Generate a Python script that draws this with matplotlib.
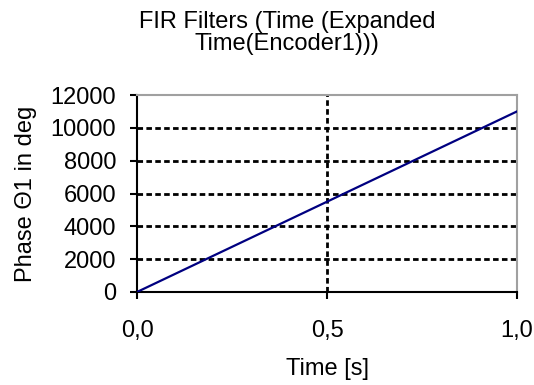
import numpy as np
import matplotlib.pyplot as plt

# values
time_s = [0.0, 0.25, 0.5, 0.75, 1.0]
phase_deg = [0, 2750, 5500, 8250, 11000]
x_ticks = [0.0, 0.5, 1.0]
x_tick_labels = ['0,0', '0,5', '1,0']
y_ticks = [0, 2000, 4000, 6000, 8000, 10000, 12000]

plt.rcParams['font.family'] = ['Liberation Sans', 'DejaVu Sans']
fs = 17

fig = plt.figure(figsize=(5.34, 3.85), dpi=100)
ax = fig.add_axes([137 / 534, 1 - 292 / 385, 380 / 534, 197 / 385])

ax.plot(time_s, phase_deg, color='#000080', linewidth=1.6, zorder=3)

ax.set_xlim(0, 1.0)
ax.set_ylim(0, 12000)
ax.set_xticks(x_ticks)
ax.set_xticklabels(x_tick_labels)
ax.set_yticks(y_ticks)

# dashed grid, like the old Excel chart
for yv in y_ticks[1:-1]:
    ax.axhline(yv, color='black', linestyle=(0, (2, 1.2)), linewidth=2, zorder=1)
ax.axvline(0.5, color='black', linestyle=(0, (2, 1.2)), linewidth=2, zorder=1)

for side in ['top', 'right']:
    ax.spines[side].set_color('#a0a0a0')
    ax.spines[side].set_linewidth(1.5)
for side in ['left', 'bottom']:
    ax.spines[side].set_color('black')
    ax.spines[side].set_linewidth(1.5)

ax.tick_params(axis='both', labelsize=fs, length=5, width=1.5, direction='out')
ax.tick_params(axis='x', pad=15)
ax.tick_params(axis='y', pad=10)

ax.set_xlabel('Time [s]', fontsize=fs, labelpad=12)
ax.set_ylabel('Phase Θ1 in deg', fontsize=fs, labelpad=10)

# title sits a bit left of the plot area centre
fig.text(287 / 534, 1 - 33 / 385, 'FIR Filters (Time (Expanded\nTime(Encoder1)))',
         fontsize=fs, ha='center', va='center', linespacing=1.05)

plt.savefig('out.png', dpi=100)
